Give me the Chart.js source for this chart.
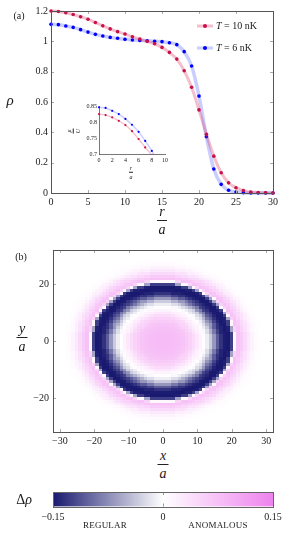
<!DOCTYPE html>
<html>
<head>
<meta charset="utf-8">
<script src="https://cdn.jsdelivr.net/npm/chart.js@4.4.1/dist/chart.umd.min.js"></script>
<style>
  body { margin:0; width:290px; height:536px; background:#fff; position:relative; overflow:hidden;
         font-family:'Liberation Serif', serif; color:#1a1a1a; }
  canvas { position:absolute; }
  .lbl { position:absolute; transform:translate(-50%,-50%); white-space:nowrap; line-height:1; }
  .it { font-style:italic; }
  .frac { position:absolute; display:flex; flex-direction:column; align-items:center; line-height:1;
          transform:translate(-50%,-50%); }
  .frac .fb { border-top:1px solid #222; margin:1px 0 2px 0; }
  .legline { position:absolute; height:3px; width:16px; transform:translateY(-50%); }
  .legdot { position:absolute; width:4px; height:4px; border-radius:50%; transform:translate(-50%,-50%); }
  .legtxt { position:absolute; transform:translateY(-50%); font-size:10px; white-space:nowrap; line-height:1; }
</style>
</head>
<body>
<canvas id="main" width="290" height="206" style="left:0;top:0"></canvas>
<canvas id="inset" width="100" height="66" style="left:70px;top:98px"></canvas>
<canvas id="heat" width="290" height="204" style="left:0;top:240px"></canvas>
<canvas id="cbar" width="290" height="40" style="left:0;top:484px"></canvas>

<div class="lbl" style="left:19px;top:16px;font-size:10px">(a)</div>
<div class="lbl it" style="left:10px;top:100px;font-size:15px">ρ</div>
<div class="frac" style="left:162px;top:221px;font-size:14px"><span class="it">r</span><span class="fb" style="width:10px"></span><span class="it">a</span></div>

<div class="legline" style="left:197px;top:26px;background:rgba(220,40,90,0.3)"></div>
<div class="legdot" style="left:205px;top:26px;background:#c8104a"></div>
<div class="legtxt" style="left:216px;top:26px"><span class="it">T</span> = 10 nK</div>
<div class="legline" style="left:197px;top:48px;background:rgba(40,60,255,0.25)"></div>
<div class="legdot" style="left:205px;top:48px;background:#0000ff"></div>
<div class="legtxt" style="left:216px;top:48px"><span class="it">T</span> = 6 nK</div>

<div class="frac" style="left:73px;top:131px;font-size:6px;transform:translate(-50%,-50%) rotate(-90deg)"><span class="it">μ</span><span class="fb" style="width:5px;border-top-width:0.6px;margin:0.5px 0 1px 0"></span><span class="it">U</span></div>
<div class="frac" style="left:131px;top:172px;font-size:6px"><span class="it">r</span><span class="fb" style="width:4px;border-top-width:0.6px;margin:0.5px 0 1px 0"></span><span class="it">a</span></div>

<div class="lbl" style="left:21px;top:257px;font-size:10px">(b)</div>
<div class="frac" style="left:22px;top:338px;font-size:14px"><span class="it">y</span><span class="fb" style="width:11px"></span><span class="it">a</span></div>
<div class="frac" style="left:163px;top:465px;font-size:14px"><span class="it">x</span><span class="fb" style="width:11px"></span><span class="it">a</span></div>

<div class="lbl" style="left:24px;top:500px;font-size:14px">Δ<span class="it">ρ</span></div>
<div class="lbl" style="left:105px;top:525px;font-size:9px;letter-spacing:0.2px">REGULAR</div>
<div class="lbl" style="left:218px;top:525px;font-size:9px;letter-spacing:0.2px">ANOMALOUS</div>

<script>
// radial density profiles, panel (a)
const radius = [0,1,2,3,4,5,6,7,8,9,10,11,12,13,14,15,16,17,18,19,20,21,22,23,24,25,26,27,28,29,30];
const rhoT10 = [1.200,1.197,1.188,1.177,1.162,1.146,1.124,1.102,1.082,1.064,1.048,1.030,1.015,1.000,0.984,0.960,
                0.927,0.883,0.806,0.697,0.548,0.387,0.243,0.134,0.067,0.035,0.016,0.007,0.003,0.001,0.000];
const rhoT6  = [1.112,1.110,1.101,1.092,1.077,1.061,1.046,1.035,1.026,1.020,1.013,1.009,1.006,1.004,1.000,0.998,
                0.991,0.978,0.932,0.837,0.639,0.371,0.158,0.057,0.018,0.006,0.002,0.000,0.000,0.000,0.000];
const mainXTicks = [0,5,10,15,20,25,30];
const mainYTicks = [0,0.2,0.4,0.6,0.8,1,1.2];

// inset: mu/U vs r/a
const insetR = [0,1,2,3,4,5,6,7,8,9];
const muT10 = [0.825,0.822,0.815,0.804,0.791,0.772,0.748,0.722,0.697,0.655];
const muT6  = [0.846,0.844,0.835,0.825,0.810,0.792,0.770,0.742,0.711,0.672];
const insetXTicks = [0,2,4,6,8,10];
const insetYTicks = [0.7,0.75,0.8,0.85];

const deltaRadius = [0,0.5,1,1.5,2,2.5,3,3.5,4,4.5,5,5.5,6,6.5,7,7.5,8,8.5,9,9.5,
                     10,10.5,11,11.5,12,12.5,13,13.5,14,14.5,15,15.5,16,16.5,17,17.5,18,18.5,19,19.5,
                     20,20.5,21,21.5,22,22.5,23,23.5,24,24.5,25,25.5,26,26.5,27,27.5,28,28.5,29,29.5,
                     30,30.5,31,31.5,32];
const deltaRho = [0.080,0.080,0.080,0.080,0.080,0.079,0.079,0.078,0.077,0.076,
                  0.075,0.073,0.071,0.068,0.064,0.060,0.055,0.049,0.043,0.036,
                  0.029,0.022,0.015,0.008,0.002,-0.004,-0.012,-0.022,-0.034,-0.050,
                  -0.068,-0.088,-0.106,-0.122,-0.134,-0.143,-0.148,-0.150,-0.150,-0.146,
                  -0.125,-0.060,0.010,0.055,0.072,0.070,0.062,0.053,0.044,0.036,
                  0.028,0.021,0.015,0.010,0.006,0.004,0.002,0.001,0,0,
                  0,0,0,0,0];
const heatXTicks = [-30,-20,-10,0,10,20,30];
const heatYTicks = [-20,0,20];
const cbarTicks = [-0.15,0,0.15];

const RED = '#c8104a', BLUE = '#0000ff';
const RED_LINE = 'rgba(220,40,90,0.3)', BLUE_LINE = 'rgba(40,60,255,0.25)';
const LOW = [25,25,112], HIGH = [238,130,238];

Chart.defaults.font.family = "'Liberation Serif', serif";
Chart.defaults.color = '#1a1a1a';
Chart.defaults.animation = false;
Chart.defaults.plugins.legend.display = false;
Chart.defaults.plugins.tooltip.enabled = false;

function deltaColor(v) {
    let t = Math.max(-1, Math.min(1, v / 0.15));
    const end = t < 0 ? LOW : HIGH;
    t = Math.abs(t);
    const c = end.map(e => Math.round(255 + (e - 255) * t));
    return 'rgb(' + c.join(',') + ')';
}

function minus(v) { return String(v).replace('-', '\u2212'); }

function fixTicks(list) {
    return s => { s.ticks = list.map(v => ({value: v})); };
}

// nearest tabulated radius
function deltaAt(r) {
    let best = 0;
    for (let i = 1; i < deltaRadius.length; i++) {
        if (Math.abs(deltaRadius[i] - r) < Math.abs(deltaRadius[best] - r)) best = i;
    }
    return deltaRho[best];
}

// box around the plot area with small ticks pointing inwards
const framePlugin = {
    id: 'frame',
    afterDatasetsDraw(chart, args, opts) {
        if (!opts.show) return;
        const ctx = chart.ctx, a = chart.chartArea;
        const len = opts.tickLength;
        ctx.save();
        ctx.strokeStyle = opts.tickColor;
        ctx.lineWidth = 1;
        (opts.axes || []).forEach(id => {
            const s = chart.scales[id];
            s.ticks.forEach(t => {
                const p = Math.round(s.getPixelForValue(t.value)) + 0.5;
                ctx.beginPath();
                if (s.isHorizontal()) {
                    ctx.moveTo(p, a.bottom); ctx.lineTo(p, a.bottom - len);
                    ctx.moveTo(p, a.top); ctx.lineTo(p, a.top + len);
                } else {
                    ctx.moveTo(a.left, p); ctx.lineTo(a.left + len, p);
                    ctx.moveTo(a.right, p); ctx.lineTo(a.right - len, p);
                }
                ctx.stroke();
            });
        });
        ctx.strokeStyle = opts.color;
        ctx.lineWidth = 1;
        ctx.strokeRect(Math.round(a.left) + 0.5, Math.round(a.top) + 0.5,
                       Math.round(a.right - a.left), Math.round(a.bottom - a.top));
        ctx.restore();
    }
};

// lattice cells coloured by delta rho
const heatPlugin = {
    id: 'heat',
    beforeDatasetsDraw(chart) {
        const ds = chart.data.datasets[0];
        if (!ds || !ds.heat) return;
        const ctx = chart.ctx, a = chart.chartArea, x = chart.scales.x, y = chart.scales.y;
        ctx.save();
        ctx.beginPath();
        ctx.rect(a.left, a.top, a.right - a.left, a.bottom - a.top);
        ctx.clip();
        ds.data.forEach(c => {
            const x0 = Math.floor(x.getPixelForValue(c.x - 0.5));
            const x1 = Math.ceil(x.getPixelForValue(c.x + 0.5));
            const y0 = Math.floor(y.getPixelForValue(c.y + 0.5));
            const y1 = Math.ceil(y.getPixelForValue(c.y - 0.5));
            ctx.fillStyle = deltaColor(c.v);
            ctx.fillRect(x0, y0, x1 - x0, y1 - y0);
        });
        ctx.restore();
    }
};
Chart.register(framePlugin, heatPlugin);

const noGrid = {display: false, drawTicks: false};
const noBorder = {display: false};

// ---- panel (a)
new Chart('main', {
    type: 'line',
    data: {
        datasets: [
            {label: 'T = 10 nK', data: radius.map((r, i) => ({x: r, y: rhoT10[i]})),
             borderColor: RED_LINE, borderWidth: 3, pointRadius: 1.8, pointBorderWidth: 0,
             pointBackgroundColor: RED, cubicInterpolationMode: 'monotone', clip: false},
            {label: 'T = 6 nK', data: radius.map((r, i) => ({x: r, y: rhoT6[i]})),
             borderColor: BLUE_LINE, borderWidth: 3.5, pointRadius: 1.8, pointBorderWidth: 0,
             pointBackgroundColor: BLUE, cubicInterpolationMode: 'monotone', clip: false}
        ]
    },
    options: {
        responsive: false,
        layout: {padding: {left: 0, top: 11, right: 17, bottom: 0}},
        scales: {
            x: {type: 'linear', min: 0, max: 30, grid: noGrid, border: noBorder,
                afterBuildTicks: fixTicks(mainXTicks), afterFit: s => { s.height = 13; },
                ticks: {font: {size: 10}, padding: 3, maxRotation: 0, callback: v => String(v)}},
            y: {type: 'linear', min: 0, max: 1.2, grid: noGrid, border: noBorder,
                afterBuildTicks: fixTicks(mainYTicks), afterFit: s => { s.width = 51; },
                ticks: {font: {size: 10}, padding: 3, callback: v => String(v)}}
        },
        plugins: {frame: {show: true, axes: ['x', 'y'], tickLength: 3, tickColor: '#aaa', color: '#555'}}
    }
});

// ---- inset
new Chart('inset', {
    type: 'line',
    data: {
        datasets: [
            {data: insetR.map((r, i) => ({x: r, y: muT10[i]})), borderColor: RED_LINE, borderWidth: 1.3,
             pointRadius: 1.1, pointBorderWidth: 0, pointBackgroundColor: RED,
             cubicInterpolationMode: 'monotone', clip: {left: 4, top: 4, right: 4, bottom: 0}},
            {data: insetR.map((r, i) => ({x: r, y: muT6[i]})), borderColor: BLUE_LINE, borderWidth: 1.5,
             pointRadius: 1.1, pointBorderWidth: 0, pointBackgroundColor: BLUE,
             cubicInterpolationMode: 'monotone', clip: {left: 4, top: 4, right: 4, bottom: 0}}
        ]
    },
    options: {
        responsive: false,
        layout: {padding: {left: 0, top: 8, right: 4, bottom: 0}},
        scales: {
            x: {type: 'linear', min: 0, max: 10, grid: noGrid, border: {display: true, color: '#555', width: 0.8},
                afterBuildTicks: fixTicks(insetXTicks), afterFit: s => { s.height = 9.5; },
                ticks: {font: {size: 6}, padding: 2, maxRotation: 0, callback: v => String(v)}},
            y: {type: 'linear', min: 0.7, max: 0.85, grid: noGrid, border: {display: true, color: '#555', width: 0.8},
                afterBuildTicks: fixTicks(insetYTicks), afterFit: s => { s.width = 29; },
                ticks: {font: {size: 6}, padding: 2, callback: v => String(v)}}
        }
    }
});

// ---- panel (b)
const heatCells = [];
for (let gy = -32; gy <= 32; gy++) {
    for (let gx = -32; gx <= 32; gx++) {
        heatCells.push({x: gx, y: gy, v: deltaAt(Math.hypot(gx, gy))});
    }
}

new Chart('heat', {
    type: 'scatter',
    data: {datasets: [{heat: true, data: heatCells, pointRadius: 0}]},
    options: {
        responsive: false,
        layout: {padding: {left: 0, top: 10, right: 17, bottom: 0}},
        scales: {
            x: {type: 'linear', min: -32, max: 32, grid: noGrid, border: noBorder,
                afterBuildTicks: fixTicks(heatXTicks), afterFit: s => { s.height = 12; },
                ticks: {font: {size: 10}, padding: 3, maxRotation: 0, callback: minus}},
            y: {type: 'linear', min: -32, max: 32, grid: noGrid, border: noBorder,
                afterBuildTicks: fixTicks(heatYTicks), afterFit: s => { s.width = 53; },
                ticks: {font: {size: 10}, padding: 4, callback: minus}}
        },
        plugins: {frame: {show: true, axes: ['x', 'y'], tickLength: 3, tickColor: '#aaa', color: '#555'}}
    }
});

// ---- colour bar
new Chart('cbar', {
    type: 'bar',
    data: {
        labels: ['\u0394\u03c1'],
        datasets: [{
            data: [[cbarTicks[0], cbarTicks[cbarTicks.length - 1]]],
            barPercentage: 1, categoryPercentage: 1, borderWidth: 0, borderSkipped: false,
            backgroundColor: ctx => {
                const a = ctx.chart.chartArea;
                if (!a) return '#fff';
                const g = ctx.chart.ctx.createLinearGradient(a.left, 0, a.right, 0);
                g.addColorStop(0, deltaColor(cbarTicks[0]));
                g.addColorStop(0.5, deltaColor(0));
                g.addColorStop(1, deltaColor(cbarTicks[cbarTicks.length - 1]));
                return g;
            }
        }]
    },
    options: {
        responsive: false,
        indexAxis: 'y',
        layout: {padding: {left: 53, top: 8, right: 17, bottom: 0}},
        scales: {
            x: {type: 'linear', min: -0.15, max: 0.15, grid: noGrid, border: noBorder,
                afterBuildTicks: fixTicks(cbarTicks), afterFit: s => { s.height = 17.5; },
                ticks: {font: {size: 10}, padding: 5, maxRotation: 0, callback: minus}},
            y: {display: false}
        },
        plugins: {frame: {show: true, axes: ['x'], tickLength: 3, tickColor: '#999', color: '#666'}}
    }
});
</script>
</body>
</html>
